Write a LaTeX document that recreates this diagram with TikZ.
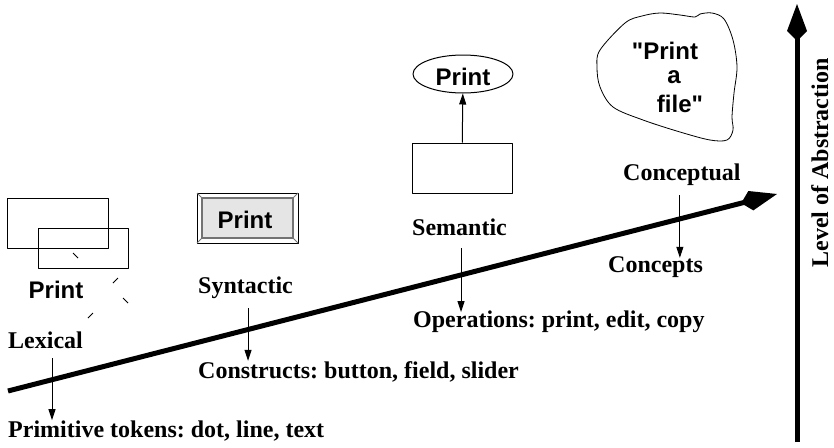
\documentclass[tikz,border=0pt]{standalone}
\usepackage{fontspec}
\setmainfont{Liberation Serif}
\setsansfont{Liberation Sans}
\usepackage{tikz}
\usetikzlibrary{shapes,arrows,positioning,calc,arrows.meta}
\frenchspacing

\tikzset{
  lbl/.style={font=\bfseries\fontsize{24}{28}\selectfont, inner sep=0pt, anchor=base west},
  pr/.style={font=\sffamily\bfseries\fontsize{24}{28}\selectfont, inner sep=0pt},
  tok/.style={line width=1pt, -{Triangle[length=11pt,width=7pt]}},
  bigaxis/.style={line width=5pt, -{Kite[length=37pt,width=20pt,inset=10pt]}}
}

\begin{document}
\begin{tikzpicture}[x=1pt, y=-1pt, line join=round]
    \useasboundingbox (0,0) rectangle (834,447);

    % Axes
    \coordinate (hstart) at (8,391);
    \coordinate (hend) at (777,194);
    \coordinate (vbot) at (797,442);
    \coordinate (vtop) at (797,4);
    \draw[bigaxis] (hstart) -- (hend);
    \draw[bigaxis] (vbot) -- (vtop);
    \node[font=\bfseries\fontsize{24}{28}\selectfont, inner sep=0pt, rotate=90, anchor=base] (abstr) at (828,163) {Level of Abstraction};

    % Lexical
    \draw[line width=1pt] (7,198) rectangle (108,248);
    \draw[line width=1pt] (38,228) rectangle (128,268);
    \draw[line width=0.8pt] (73,253) -- (78,258);
    \draw[line width=0.8pt] (113,283) -- (118,278);
    \draw[line width=0.8pt] (123,298) -- (128,303);
    \draw[line width=0.8pt] (88,318) -- (93,313);
    \node[pr, anchor=base] (lexprint) at (56,298) {Print};
    \node[lbl] (lex) at (8,348) {Lexical};
    \node[lbl] (prim) at (8,437) {Primitive tokens: dot, line, text};
    \coordinate (lexfrom) at ([shift={(6.5,10)}]lex.south);
    \draw[tok] (lexfrom) -- (lexfrom |- prim.north);

    % Syntactic
    \draw[line width=1pt] (197,193) rectangle (298,243);
    \draw[line width=1.5pt, draw=black!55, fill=black!10] (202,198) rectangle (293,238);
    \draw[black!55, line width=0.8pt] (197,193) -- (202,198) (298,193) -- (293,198)
        (197,243) -- (202,238) (298,243) -- (293,238);
    \node[pr, anchor=base] (btnprint) at (245,228) {Print};
    \node[lbl] (syn) at (198,293) {Syntactic};
    \node[lbl] (cons) at (198,378) {Constructs: button, field, slider};
    \coordinate (synfrom) at ([shift={(2.5,10)}]syn.south);
    \draw[tok] (synfrom) -- (synfrom |- cons.north);

    % Semantic
    \node[draw, line width=1pt, minimum width=100pt, minimum height=50pt, inner sep=0pt] (semrect) at (462,168) {};
    \node[draw, ellipse, line width=1pt, minimum width=100pt, minimum height=38pt, inner sep=0pt] (semoval) at (463,74) {};
    \node[pr, anchor=base] (semprint) at (463,85) {Print};
    \draw[tok] (semrect) -- (semoval);
    \node[lbl] (sem) at (412,235) {Semantic};
    \node[lbl] (oper) at (413,327) {Operations: print, edit, copy};
    \coordinate (semfrom) at ([shift={(1.5,13)}]sem.south);
    \draw[tok] (semfrom) -- ([yshift=-2pt]semfrom |- oper.north);

    % Conceptual
    \draw[line width=0.8pt] plot[smooth cycle, tension=0.55] coordinates {
        (600,50) (625,23) (642,16) (660,13) (680,15) (695,17) (700,14) (712,13)
        (724,19) (733,40) (737,67) (734,93) (732,117) (733,130) (727,140)
        (710,140) (680,132) (643,120) (613,107) (600,87) (597,67)};
    \node[pr, anchor=base] (idea1) at (665,59) {\textquotedbl Print};
    \node[pr, anchor=base] (idea2) at (674,83) {a};
    \node[pr, anchor=base] (idea3) at (680,112) {file\textquotedbl};
    \node[lbl] (conc) at (623,180) {Conceptual};
    \node[lbl] (cpts) at (608,272) {Concepts};
    \coordinate (concfrom) at ([shift={(-2,10)}]conc.south);
    \draw[tok] (concfrom) -- ([yshift=-2pt]concfrom |- cpts.north);
\end{tikzpicture}
\end{document}
